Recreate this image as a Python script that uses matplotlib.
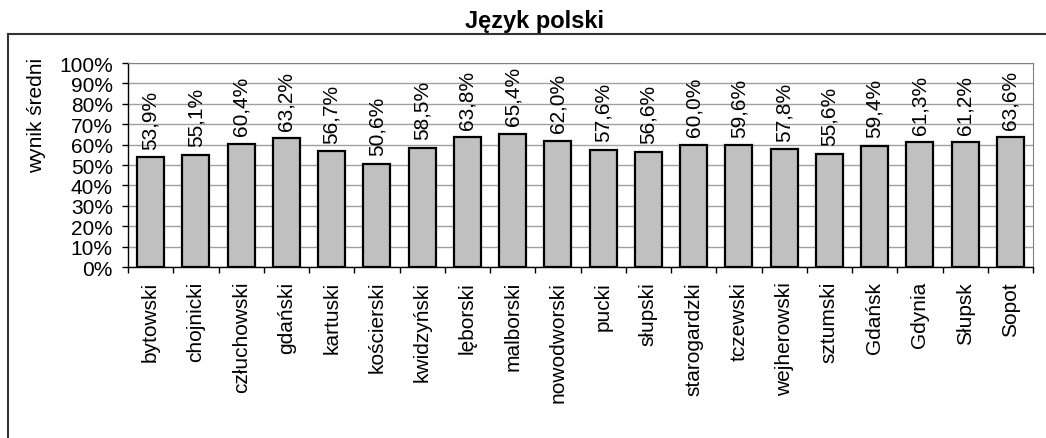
import numpy as np
from matplotlib import pyplot as plt
from matplotlib.lines import Line2D

plt.rcParams['font.family'] = ['Liberation Sans', 'DejaVu Sans']

powiaty = ['bytowski', 'chojnicki', 'człuchowski', 'gdański', 'kartuski', 'kościerski',
           'kwidzyński', 'lęborski', 'malborski', 'nowodworski', 'pucki', 'słupski',
           'starogardzki', 'tczewski', 'wejherowski', 'sztumski', 'Gdańsk', 'Gdynia',
           'Słupsk', 'Sopot']
wyniki = [53.9, 55.1, 60.4, 63.2, 56.7, 50.6, 58.5, 63.8, 65.4, 62.0,
          57.6, 56.6, 60.0, 59.6, 57.8, 55.6, 59.4, 61.3, 61.2, 63.6]
y_ticks = list(range(0, 101, 10))

FS = 15

fig = plt.figure(figsize=(10.46, 4.39), dpi=100)
ax = fig.add_axes([0.1224, 0.3895, 0.8652, 0.4647])

x = np.arange(len(powiaty))
ax.bar(x, wyniki, width=0.6, color='#c0c0c0', edgecolor='black', linewidth=1.6, zorder=3)

# value labels above the bars
for xi, v in zip(x, wyniki):
    ax.annotate(f"{v:.1f}%".replace('.', ','), xy=(xi, v), xytext=(0, 6),
                textcoords='offset points', rotation=90, ha='center', va='bottom',
                fontsize=FS)

ax.set_xlim(-0.5, len(powiaty) - 0.5)
ax.set_ylim(0, 100)
ax.set_yticks(y_ticks)
ax.set_yticklabels([f"{t}%" for t in y_ticks], fontsize=FS)
ax.yaxis.grid(True, color='#a0a0a0', linewidth=1, zorder=0)

ax.set_xticks(x)
ax.set_xticklabels(powiaty, rotation=90, fontsize=FS, va='top')
ax.tick_params(axis='x', which='major', length=0, pad=10)
ax.set_xticks(np.arange(-0.5, len(powiaty), 1), minor=True)
ax.tick_params(axis='x', which='minor', length=4, width=1, direction='out')
ax.tick_params(axis='y', length=4, width=1, direction='out', pad=7)

ax.spines['top'].set_color('#808080')
ax.spines['right'].set_color('#808080')
ax.spines['left'].set_linewidth(1)
ax.spines['bottom'].set_linewidth(1)

fig.text(37 / 1046, (439 - 115) / 439, 'wynik średni', rotation=90,
         ha='center', va='center', fontsize=FS)

fig.text(0.511, 0.952, 'Język polski', ha='center', va='center', fontsize=17, fontweight='bold')

# outer chart frame
fx = 8 / 1046
fy = (439 - 35) / 439
fig.add_artist(Line2D([fx, fx], [0, fy], color='#333333', linewidth=1.5))
fig.add_artist(Line2D([fx, 1.0], [fy, fy], color='#333333', linewidth=1.5))

plt.savefig('out.png', dpi=100)
